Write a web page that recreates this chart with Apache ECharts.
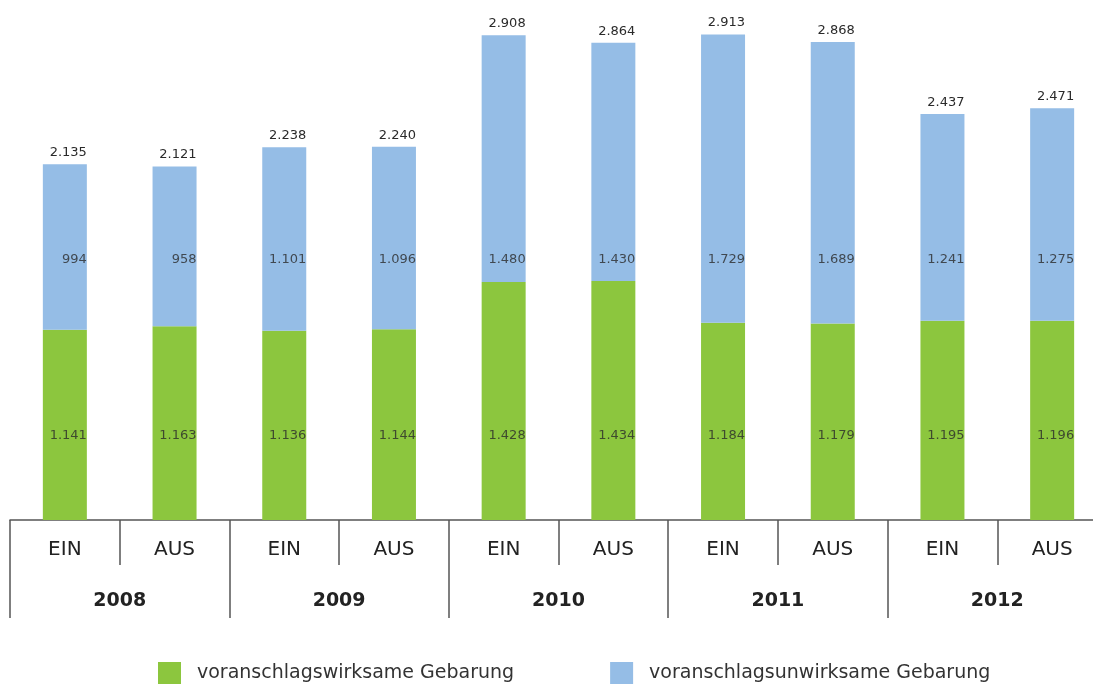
<!DOCTYPE html>
<html>
<head>
<meta charset="utf-8">
<script src="https://cdn.jsdelivr.net/npm/echarts@6/dist/echarts.min.js"></script>
<style>
html,body{margin:0;padding:0;background:#fff;}
#chart{width:1093px;height:685px;}
</style>
</head>
<body>
<div id="chart"></div>
<script>
var kinds = ['EIN', 'AUS', 'EIN', 'AUS', 'EIN', 'AUS', 'EIN', 'AUS', 'EIN', 'AUS'];
var years = ['2008', '2009', '2010', '2011', '2012'];
var wirksam = [1141, 1163, 1136, 1144, 1428, 1434, 1184, 1179, 1195, 1196];
var unwirksam = [994, 958, 1101, 1096, 1480, 1430, 1729, 1689, 1241, 1275];
var summe = [2135, 2121, 2238, 2240, 2908, 2864, 2913, 2868, 2437, 2471];

var nameGreen = 'voranschlagswirksame Gebarung';
var nameBlue = 'voranschlagsunwirksame Gebarung';

// deutsche Tausenderpunkte
function fmt(v) {
    if (v < 1000) return String(v);
    return Math.floor(v / 1000) + '.' + String(v % 1000).padStart(3, '0');
}

// Beschriftungen stehen auf fester Höhe (nicht in der Mitte des Segments)
var greenLabelLevel = 504;
var blueLabelLevel = 1565;

var valueLabel = function (arr) {
    return {
        show: true,
        position: 'inside',
        align: 'right',
        offset: [22, 0],
        fontFamily: 'DejaVu Sans',
        fontSize: 13,
        color: '#2a2a2a',
        formatter: function (p) { return fmt(arr[p.dataIndex]); }
    };
};

var chart = echarts.init(document.getElementById('chart'));
chart.setOption({
    animation: false,
    grid: {left: 10, top: 20, width: 1097, height: 500, outerBoundsMode: 'none', containLabel: false},
    legend: {
        left: 158,
        top: 662,
        padding: 0,
        itemWidth: 23,
        itemHeight: 22,
        itemGap: 96,
        icon: 'rect',
        data: [nameGreen, nameBlue],
        textStyle: {fontFamily: 'DejaVu Sans', fontSize: 19, color: '#333', padding: [2, 0, 0, 11]}
    },
    xAxis: [{
        type: 'category',
        data: kinds,
        position: 'bottom',
        axisLine: {onZero: false, lineStyle: {color: '#555', width: 1.5}},
        axisTick: {show: true, interval: 0, length: 45, lineStyle: {color: '#555', width: 1.5}},
        axisLabel: {interval: 0, margin: 20, fontFamily: 'DejaVu Sans', fontSize: 20, color: '#222'}
    }, {
        type: 'category',
        data: years,
        position: 'bottom',
        axisLine: {show: false},
        axisTick: {show: true, interval: 0, length: 98, lineStyle: {color: '#555', width: 1.5}},
        axisLabel: {interval: 0, margin: 72, fontFamily: 'DejaVu Sans', fontWeight: 'bold', fontSize: 19, color: '#222'}
    }],
    yAxis: {
        type: 'value',
        min: 0,
        max: 3000,
        show: false
    },
    series: [{
        name: nameGreen,
        type: 'bar',
        stack: 'gesamt',
        barWidth: 44,
        itemStyle: {color: '#8cc63e'},
        data: wirksam
    }, {
        name: nameBlue,
        type: 'bar',
        stack: 'gesamt',
        barWidth: 44,
        itemStyle: {color: '#95bde6'},
        data: unwirksam,
        label: {
            show: true,
            position: 'top',
            align: 'right',
            offset: [22, 0],
            distance: 5,
            fontFamily: 'DejaVu Sans',
            fontSize: 13,
            color: '#2a2a2a',
            formatter: function (p) { return fmt(summe[p.dataIndex]); }
        }
    }, {
        type: 'scatter',
        symbolSize: 0,
        silent: true,
        z: 5,
        data: kinds.map(function () { return greenLabelLevel; }),
        label: valueLabel(wirksam)
    }, {
        type: 'scatter',
        symbolSize: 0,
        silent: true,
        z: 5,
        data: kinds.map(function () { return blueLabelLevel; }),
        label: valueLabel(unwirksam)
    }]
});
</script>
</body>
</html>
